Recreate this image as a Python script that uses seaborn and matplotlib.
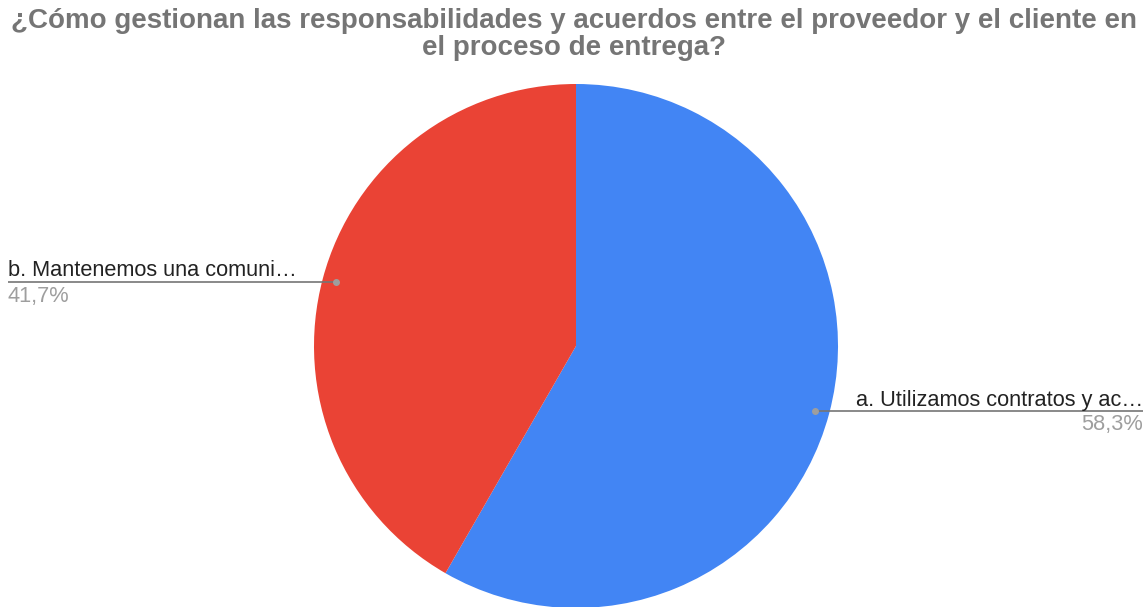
import matplotlib
matplotlib.use("Agg")
import matplotlib.pyplot as plt
import seaborn as sns

sns.set_theme(style="white")
plt.rcParams['font.family'] = ['Liberation Sans', 'DejaVu Sans']

title_lines = ["¿Cómo gestionan las responsabilidades y acuerdos entre el proveedor y el cliente en",
               "el proceso de entrega?"]
categories = ["a. Utilizamos contratos y ac…", "b. Mantenemos una comuni…"]
shares = [58.3, 41.7]
pct_labels = ["58,3%", "41,7%"]
colors = sns.color_palette(["#4285F4", "#EA4335"])

W, H = 1148, 607
fig = plt.figure(figsize=(W / 100, H / 100), dpi=100)
ax = fig.add_axes([0, 0, 1, 1])

cx, cy, r = 576, 346, 262
# y axis is inverted, so counterclock=True draws clockwise on screen
ax.pie(shares, colors=colors, startangle=-90, counterclock=True,
       center=(cx, cy), radius=r, frame=True,
       wedgeprops=dict(linewidth=0))
ax.set_xlim(0, W)
ax.set_ylim(H, 0)
ax.set_aspect("equal")
ax.axis("off")

line_c = "#757575"
txt_c = "#222222"
pct_c = "#9e9e9e"
fs = 15.7

# right label (a)
ax.plot([815, 1143], [410.5, 410.5], color=line_c, lw=1.2, solid_capstyle="butt")
ax.plot([815], [410.5], "o", color="#9e9e9e", ms=4)
ax.text(1143, 406, categories[0], ha="right", va="baseline", fontsize=fs, color=txt_c)
ax.text(1143, 430, pct_labels[0], ha="right", va="baseline", fontsize=fs, color=pct_c)

# left label (b)
ax.plot([8, 336], [282, 282], color=line_c, lw=1.2, solid_capstyle="butt")
ax.plot([336], [282], "o", color="#9e9e9e", ms=4)
ax.text(8, 276, categories[1], ha="left", va="baseline", fontsize=fs, color=txt_c)
ax.text(8, 302, pct_labels[1], ha="left", va="baseline", fontsize=fs, color=pct_c)

for yc, line in zip([18, 45], title_lines):
    ax.text(W / 2, yc, line, ha="center", va="center_baseline", fontsize=20,
            fontweight="bold", color="#757575")

fig.savefig("out.png", dpi=100, facecolor="white")
